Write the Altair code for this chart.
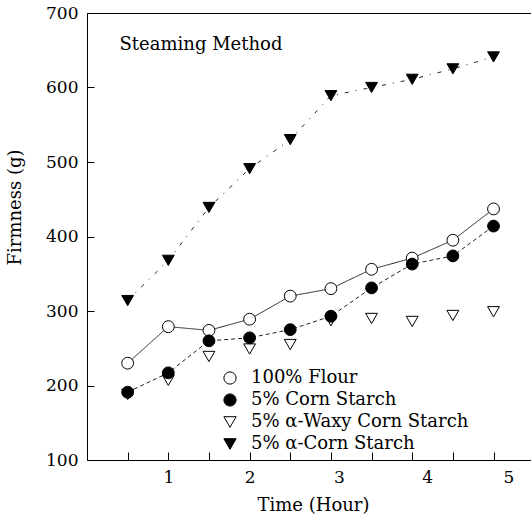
import altair as alt
import pandas as pd

# ---- data ----
time_h = [0.5, 1.0, 1.5, 2.0, 2.5, 3.0, 3.5, 4.0, 4.5, 5.0]
flour = [230, 279, 274, 289, 320, 330, 356, 371, 395, 437]
corn_starch = [191, 217, 260, 264, 275, 293, 331, 363, 374, 414]
waxy_starch = [188, 207, 239, 249, 255, 287, 290, 286, 294, 299]
alpha_corn = [314, 368, 439, 491, 530, 589, 600, 611, 625, 641]

series_names = ["100% Flour", "5% Corn Starch", "5% \u03b1-Waxy Corn Starch", "5% \u03b1-Corn Starch"]
x_labels = [1, 2, 3, 4, 5]
y_ticks = [100, 200, 300, 400, 500, 600, 700]
note_text = ["Steaming Method"]
note_x = [0.4]
note_y = [657]

FONT = "DejaVu Serif"
W, H = 444, 447
X_DOMAIN = [0, 5.461]
Y_DOMAIN = [100, 700]

# draw order: waxy first, then alpha-corn, flour, corn starch
order = [2, 3, 0, 1]
vals = [flour, corn_starch, waxy_starch, alpha_corn]
rows = []
for i in order:
    for t, v in zip(time_h, vals[i]):
        rows.append({"time": t, "firm": v, "series": series_names[i]})
df = pd.DataFrame(rows)
note_df = pd.DataFrame({"x": note_x, "y": note_y, "text": note_text})

xscale = alt.Scale(domain=X_DOMAIN, nice=False, zero=False)
yscale = alt.Scale(domain=Y_DOMAIN, nice=False, zero=False)

line_series = [series_names[0], series_names[1], series_names[3]]

lines = alt.Chart(df).transform_filter(
    alt.FieldOneOfPredicate(field="series", oneOf=line_series)
).mark_line(color="#222222", strokeWidth=1).encode(
    x=alt.X("time:Q", scale=xscale,
            axis=alt.Axis(orient="bottom", values=x_labels, ticks=False, domain=True,
                          domainColor="black", domainWidth=1, grid=False,
                          labelFont=FONT, labelFontSize=17, labelColor="black", labelPadding=9,
                          labelOffset={"condition": [{"test": "datum.value == 3", "value": 8},
                                                     {"test": "datum.value >= 4", "value": 15}],
                                       "value": 0},
                          title="Time (Hour)", titleFont=FONT, titleFontSize=18,
                          titleFontWeight="normal", titleColor="black",
                          titleX=226, titleY=45, titleAlign="center", titleBaseline="middle")),
    y=alt.Y("firm:Q", scale=yscale,
            axis=alt.Axis(orient="left", values=y_ticks, ticks=False, domain=True,
                          domainColor="black", domainWidth=1, grid=False,
                          labelFont=FONT, labelFontSize=17, labelColor="black", labelPadding=9,
                          title="Firmness (g)", titleFont=FONT, titleFontSize=18,
                          titleFontWeight="normal", titleColor="black",
                          titleX=-72, titleY=194, titleAlign="center", titleBaseline="middle")),
    strokeDash=alt.StrokeDash("series:N", legend=None,
                              scale=alt.Scale(domain=line_series,
                                              range=[[1, 0], [4, 3], [4, 7, 1, 7]])),
    detail="series:N",
)

legend_kw = dict(orient="none", legendX=134, legendY=356, title=None, padding=0,
                 labelFont=FONT, labelFontSize=18, labelColor="black", labelOffset=12,
                 labelLimit=0, rowPadding=4, symbolSize=150, symbolStrokeWidth=1)

points = alt.Chart(df).mark_point(filled=True, strokeWidth=1,
                                  opacity=1, size=140).encode(
    x=alt.X("time:Q", scale=xscale,
            axis=alt.Axis(orient="top", offset=-H, values=time_h, labels=False, domain=False,
                          ticks=True, tickSize=8, tickColor="black", tickWidth=1,
                          grid=False, title=None)),
    y=alt.Y("firm:Q", scale=yscale,
            axis=alt.Axis(orient="right", offset=-W, values=y_ticks, labels=False, domain=False,
                          ticks=True, tickSize=7, tickColor="black", tickWidth=1,
                          grid=False, title=None)),
    shape=alt.Shape("series:N",
                    scale=alt.Scale(domain=series_names,
                                    range=["circle", "circle", "triangle-down", "triangle-down"]),
                    legend=alt.Legend(**legend_kw)),
    fill=alt.Fill("series:N",
                  scale=alt.Scale(domain=series_names,
                                  range=["white", "black", "white", "black"]),
                  legend=alt.Legend(**legend_kw)),
    stroke=alt.Stroke("series:N",
                      scale=alt.Scale(domain=series_names,
                                      range=["black", "black", "black", "black"]),
                      legend=alt.Legend(**legend_kw)),
)

note = alt.Chart(note_df).mark_text(align="left", baseline="middle", font=FONT,
                                    fontSize=18, color="black").encode(
    x=alt.X("x:Q", scale=xscale,
            axis=alt.Axis(orient="top", labels=False, ticks=False, domain=True,
                          domainColor="black", domainWidth=1, grid=False, title=None)),
    y=alt.Y("y:Q", scale=yscale, axis=None),
    text="text:N",
)

chart = alt.layer(lines, points, note).resolve_axis(
    x="independent", y="independent"
).properties(
    width=W, height=H,
    autosize=alt.AutoSizeParams(type="none"),
    padding={"left": 87, "top": 13, "right": 0, "bottom": 58},
    background="white",
).configure_view(stroke=None)

chart.save("out.html", embed_options={"renderer": "svg", "actions": False})
